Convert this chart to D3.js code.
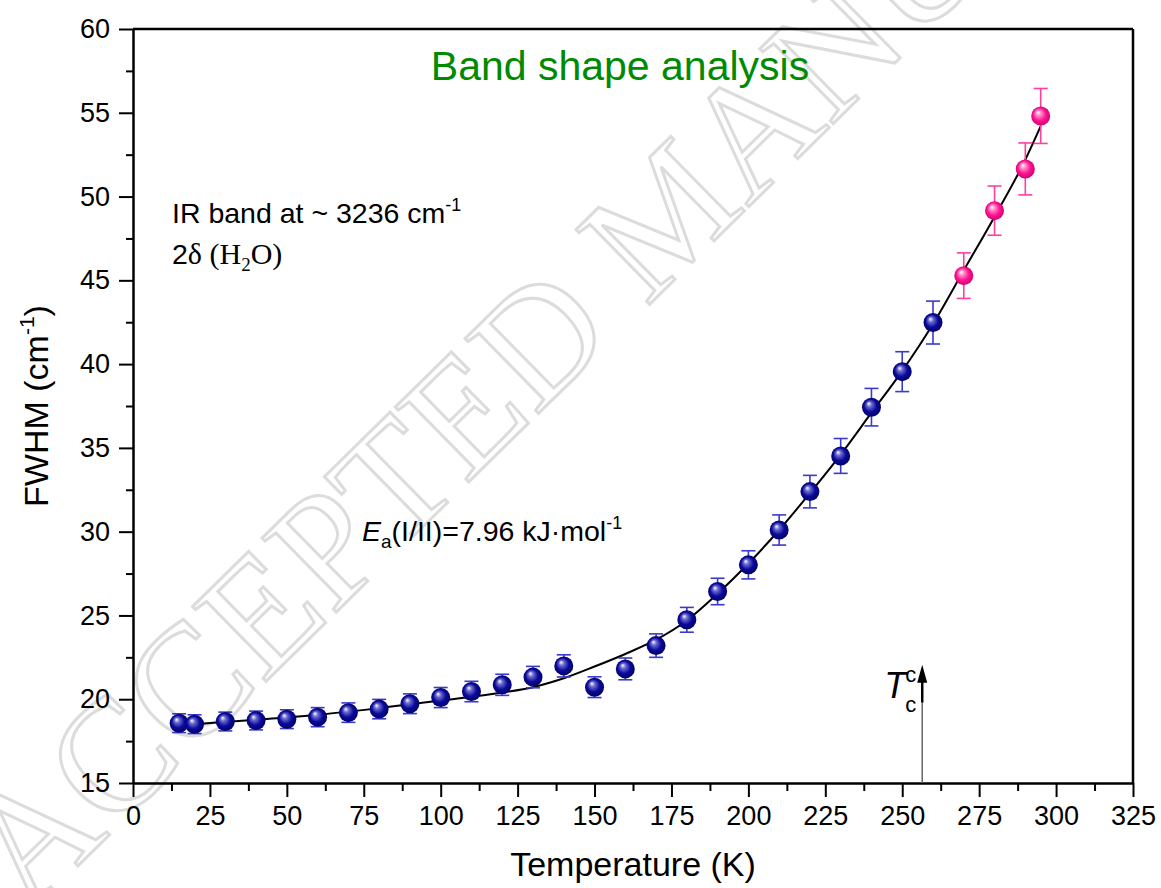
<!DOCTYPE html>
<html>
<head>
<meta charset="utf-8">
<script src="https://cdn.jsdelivr.net/npm/d3@7"></script>
<style>
  body { margin: 0; background: #fff; }
  svg { display: block; font-family: Arial, "Liberation Sans", sans-serif; }
</style>
</head>
<body>
<svg id="chart" width="1161" height="888"></svg>
<script>
// --- data ---
const tempsLow = [15, 20, 30, 40, 50, 60, 70, 80, 90, 100, 110, 120, 130, 140, 150, 160, 170, 180, 190, 200, 210, 220, 230, 240, 250, 260];
const fwhmLow  = [18.57, 18.51, 18.67, 18.73, 18.81, 18.93, 19.2, 19.41, 19.73, 20.1, 20.46, 20.86, 21.32, 21.99, 20.72, 21.81, 23.2, 24.74, 26.43, 28.02, 30.1, 32.39, 34.52, 37.43, 39.55, 42.48];
const errLow   = [0.56, 0.56, 0.56, 0.56, 0.56, 0.57, 0.58, 0.58, 0.59, 0.6, 0.61, 0.63, 0.64, 0.66, 0.62, 0.65, 0.7, 0.74, 0.79, 0.84, 0.9, 0.97, 1.04, 1.12, 1.19, 1.28];

const tempsHigh = [270, 280, 290, 295];
const fwhmHigh  = [45.28, 49.16, 51.65, 54.81];
const errHigh   = [1.36, 1.47, 1.55, 1.64];

// fitted curve, sampled from the figure
const fitT = [15, 40, 60, 80, 100, 120, 130, 140, 150, 160, 170, 180, 190, 200, 210, 220, 230, 240, 250, 260, 270, 280, 290, 295];
const fitV = [18.45, 18.77, 19.07, 19.47, 19.92, 20.4, 20.72, 21.25, 21.95, 22.7, 23.55, 24.7, 26.3, 28.1, 30.1, 32.3, 34.6, 37.1, 39.6, 42.4, 45.6, 48.8, 52.2, 54.2];

const xTicks = d3.range(0, 326, 25);
const yTicks = d3.range(15, 61, 5);
const tcTemp = 256.5;

const svg = d3.select("#chart");
const x = d3.scaleLinear().domain([0, 325]).range([133, 1133]);
const y = d3.scaleLinear().domain([15, 60]).range([783, 29]);

// watermark
svg.append("text")
  .attr("transform", "translate(28,915) rotate(-44.5)")
  .attr("font-family", "'Liberation Serif', 'DejaVu Serif', serif")
  .attr("font-size", 160)
  .attr("fill", "none")
  .attr("stroke", "#dcdcdc")
  .attr("stroke-width", 3)
  .text("ACCEPTED MANUSCRIPT");

const defs = svg.append("defs");
function sphere(id, light, mid, dark) {
  const g = defs.append("radialGradient").attr("id", id)
    .attr("cx", "50%").attr("cy", "50%").attr("r", "55%")
    .attr("fx", "35%").attr("fy", "30%");
  g.append("stop").attr("offset", "0%").attr("stop-color", "#ffffff");
  g.append("stop").attr("offset", "25%").attr("stop-color", light);
  g.append("stop").attr("offset", "60%").attr("stop-color", mid);
  g.append("stop").attr("offset", "100%").attr("stop-color", dark);
}
sphere("blueBall", "#6a6ad0", "#0a0a9a", "#000060");
sphere("pinkBall", "#ff8cc6", "#ff1493", "#c8006a");

// axes
svg.append("g").attr("transform", `translate(0,${y(15)})`)
  .call(d3.axisBottom(x).tickValues(xTicks).tickSize(14).tickSizeOuter(0).tickPadding(9));
svg.append("g").attr("transform", `translate(0,${y(15)})`)
  .call(d3.axisBottom(x).tickValues(xTicks.slice(0, -1).map(d => d + 12.5)).tickSize(8).tickFormat(""))
  .call(g => g.select(".domain").remove());

svg.append("g").attr("transform", `translate(${x(0)},0)`)
  .call(d3.axisLeft(y).tickValues(yTicks).tickSize(14).tickSizeOuter(0).tickPadding(9));
svg.append("g").attr("transform", `translate(${x(0)},0)`)
  .call(d3.axisLeft(y).tickValues(yTicks.slice(0, -1).map(d => d + 2.5)).tickSize(7).tickFormat(""))
  .call(g => g.select(".domain").remove());

svg.selectAll(".tick line").attr("stroke", "#000").attr("stroke-width", 2);
svg.selectAll(".domain").attr("stroke", "#000").attr("stroke-width", 2.5);
svg.selectAll(".tick text").attr("font-size", 27).attr("fill", "#000")
  .attr("font-family", "Arial, 'Liberation Sans', sans-serif");

// top and right frame
svg.append("line").attr("x1", x(0)).attr("x2", x(325)).attr("y1", y(60)).attr("y2", y(60))
  .attr("stroke", "#000").attr("stroke-width", 2.5);
svg.append("line").attr("x1", x(325)).attr("x2", x(325)).attr("y1", y(60)).attr("y2", y(15))
  .attr("stroke", "#000").attr("stroke-width", 2.5);

// axis titles
svg.append("text").attr("x", x(162.5)).attr("y", 876).attr("text-anchor", "middle")
  .attr("font-size", 34).text("Temperature (K)");
const yl = svg.append("text").attr("transform", `translate(48,${y(37.5)}) rotate(-90)`)
  .attr("text-anchor", "middle").attr("font-size", 34);
yl.append("tspan").text("FWHM (cm");
yl.append("tspan").attr("font-size", 21).attr("dy", -14).text("-1");
yl.append("tspan").attr("dy", 14).text(")");

// title
svg.append("text").attr("x", 620).attr("y", 80).attr("text-anchor", "middle")
  .attr("font-size", 41).attr("fill", "#008a00").text("Band shape analysis");

// annotations
const t1 = svg.append("text").attr("x", 172).attr("y", 223).attr("font-size", 28.5);
t1.append("tspan").text("IR band at ~ 3236 cm");
t1.append("tspan").attr("font-size", 18).attr("dy", -12).text("-1");

const serif = "'Liberation Serif', 'Times New Roman', serif";
const t2 = svg.append("text").attr("x", 172).attr("y", 264).attr("font-size", 28.5);
t2.append("tspan").text("2");
t2.append("tspan").attr("font-family", serif).attr("font-size", 30).text("δ (H");
t2.append("tspan").attr("font-family", serif).attr("font-size", 19).attr("dy", 7).text("2");
t2.append("tspan").attr("font-family", serif).attr("font-size", 30).attr("dy", -7).text("O)");

const t3 = svg.append("text").attr("x", 362).attr("y", 541).attr("font-size", 28.5);
t3.append("tspan").attr("font-style", "italic").text("E");
t3.append("tspan").attr("font-size", 19).attr("dy", 7).text("a");
t3.append("tspan").attr("dy", -7).text("(I/II)=7.96 kJ·mol");
t3.append("tspan").attr("font-size", 18).attr("dy", -12).text("-1");

// Tc arrow
svg.append("line").attr("x1", x(tcTemp)).attr("x2", x(tcTemp)).attr("y1", y(15)).attr("y2", y(19.8))
  .attr("stroke", "#666").attr("stroke-width", 1.5);
svg.append("line").attr("x1", x(tcTemp)).attr("x2", x(tcTemp)).attr("y1", y(19.8)).attr("y2", y(21.2))
  .attr("stroke", "#000").attr("stroke-width", 2.5);
const tipY = y(22.05), ax = x(tcTemp);
svg.append("path").attr("d", `M${ax},${tipY} L${ax - 5},${tipY + 18} L${ax + 5},${tipY + 18} Z`).attr("fill", "#000");
svg.append("text").attr("x", ax - 38).attr("y", 698).attr("font-size", 36).attr("font-style", "italic").text("T");
svg.append("text").attr("x", ax - 17).attr("y", 682).attr("font-size", 22).text("c");
svg.append("text").attr("x", ax - 17).attr("y", 712).attr("font-size", 22).text("c");

// fit curve
const line = d3.line().x((d, i) => x(fitT[i])).y(d => y(d)).curve(d3.curveMonotoneX);
svg.append("path").attr("d", line(fitV)).attr("fill", "none").attr("stroke", "#000").attr("stroke-width", 2);

// error bars + points
function series(ts, vs, es, barColor, fill) {
  const data = ts.map((t, i) => ({ t, v: vs[i], e: es[i] }));
  const g = svg.append("g");
  const eb = g.selectAll("g.eb").data(data).join("g").attr("stroke", barColor).attr("stroke-width", 1.6);
  eb.append("line").attr("x1", d => x(d.t)).attr("x2", d => x(d.t))
    .attr("y1", d => y(d.v + d.e)).attr("y2", d => y(d.v - d.e));
  eb.append("line").attr("x1", d => x(d.t) - 7).attr("x2", d => x(d.t) + 7)
    .attr("y1", d => y(d.v + d.e)).attr("y2", d => y(d.v + d.e));
  eb.append("line").attr("x1", d => x(d.t) - 7).attr("x2", d => x(d.t) + 7)
    .attr("y1", d => y(d.v - d.e)).attr("y2", d => y(d.v - d.e));
  g.selectAll("circle").data(data).join("circle")
    .attr("cx", d => x(d.t)).attr("cy", d => y(d.v)).attr("r", 9.5)
    .attr("fill", fill);
}
series(tempsLow, fwhmLow, errLow, "#3a3acc", "url(#blueBall)");
series(tempsHigh, fwhmHigh, errHigh, "#ff3fa0", "url(#pinkBall)");
</script>
</body>
</html>
